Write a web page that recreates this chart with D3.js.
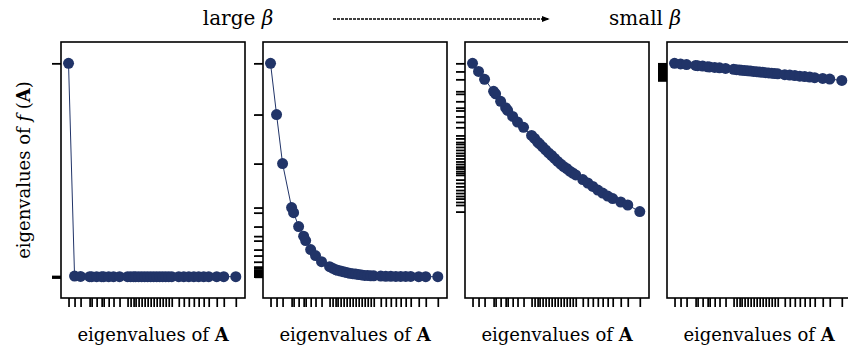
<!DOCTYPE html>
<html>
<head>
<meta charset="utf-8">
<script src="https://cdn.jsdelivr.net/npm/d3@7"></script>
<style>
  body { margin: 0; background: #fff; }
  svg { display: block; font-family: "DejaVu Serif", serif; }
</style>
</head>
<body>
<script>
// eigenvalues of A (shared by every panel)
const eigvals = [0.000, 0.036, 0.072, 0.126, 0.138, 0.168, 0.198, 0.210, 0.240, 0.269,
  0.305, 0.353, 0.371, 0.389, 0.401, 0.419, 0.437, 0.455, 0.473, 0.491,
  0.509, 0.527, 0.545, 0.563, 0.581, 0.599, 0.617, 0.659, 0.689, 0.719,
  0.749, 0.778, 0.808, 0.838, 0.886, 0.928, 1.000]

// eigenvalues of f(A), large beta -> small beta
const fLarge = [1.000, 0.003, 0.001, 0, 0, 0, 0, 0, 0, 0,
  0, 0, 0, 0, 0, 0, 0, 0, 0, 0,
  0, 0, 0, 0, 0, 0, 0, 0, 0, 0,
  0, 0, 0, 0, 0, 0, 0]
const fMidLarge = [1.000, 0.760, 0.530, 0.324, 0.300, 0.235, 0.190, 0.169, 0.127, 0.099,
  0.070, 0.047, 0.040, 0.033, 0.030, 0.026, 0.023, 0.019, 0.016, 0.014,
  0.012, 0.010, 0.008, 0.006, 0.006, 0.004, 0.004, 0.003, 0.002, 0.002,
  0.001, 0.001, 0.001, 0.001, 0.000, 0.000, 0.000]
const fMidSmall = [1.000, 0.962, 0.925, 0.869, 0.857, 0.822, 0.792, 0.779, 0.751, 0.725,
  0.700, 0.662, 0.648, 0.631, 0.622, 0.608, 0.594, 0.580, 0.568, 0.554,
  0.540, 0.528, 0.516, 0.507, 0.495, 0.486, 0.477, 0.455, 0.439, 0.423,
  0.406, 0.392, 0.378, 0.366, 0.350, 0.336, 0.305]
const fSmall = [1.000, 0.997, 0.994, 0.990, 0.989, 0.987, 0.984, 0.983, 0.981, 0.979,
  0.976, 0.972, 0.970, 0.969, 0.968, 0.966, 0.965, 0.964, 0.962, 0.961,
  0.959, 0.958, 0.956, 0.955, 0.954, 0.952, 0.951, 0.947, 0.945, 0.943,
  0.940, 0.938, 0.936, 0.933, 0.929, 0.926, 0.920]

const panels = [fLarge, fMidLarge, fMidSmall, fSmall]

const W = 848, H = 348
const left0 = 61, step = 202, pw = 184
const topY = 42, ph = 256
const color = '#213468'

const x = d3.scaleLinear().domain([-0.045, 1.055]).range([0, pw])
const y = d3.scaleLinear().domain([-0.1, 1.1]).range([ph, 0])

const svg = d3.select('body').append('svg')
  .attr('width', W).attr('height', H)

// header: large beta ---> small beta
const title1 = svg.append('text').attr('x', 238).attr('y', 25)
  .attr('text-anchor', 'middle').style('font-size', '20px')
title1.append('tspan').text('large ')
title1.append('tspan').style('font-style', 'italic').text('β')

const title2 = svg.append('text').attr('x', 645).attr('y', 25)
  .attr('text-anchor', 'middle').style('font-size', '20px')
title2.append('tspan').text('small ')
title2.append('tspan').style('font-style', 'italic').text('β')

svg.append('defs').append('marker')
  .attr('id', 'arr').attr('viewBox', '0 0 10 10')
  .attr('refX', 9).attr('refY', 5)
  .attr('markerWidth', 6).attr('markerHeight', 6)
  .attr('orient', 'auto')
  .append('path').attr('d', 'M0,1 L10,5 L0,9 Z').attr('fill', '#000')

svg.append('line')
  .attr('x1', 333).attr('x2', 549).attr('y1', 19).attr('y2', 19)
  .attr('stroke', '#000').attr('stroke-width', 1.3)
  .attr('stroke-dasharray', '3,1')
  .attr('marker-end', 'url(#arr)')

// y label
const yl = svg.append('text')
  .attr('transform', `translate(30, ${topY + ph / 2}) rotate(-90)`)
  .attr('text-anchor', 'middle').style('font-size', '18px')
yl.append('tspan').text('eigenvalues of ')
yl.append('tspan').style('font-style', 'italic').text('f ')
yl.append('tspan').text('(')
yl.append('tspan').style('font-weight', 'bold').text('A')
yl.append('tspan').text(')')

const line = d3.line().x(d => x(d[0])).y(d => y(d[1]))

panels.forEach((vals, i) => {
  const g = svg.append('g').attr('transform', `translate(${left0 + i * step}, ${topY})`)
  const pts = eigvals.map((e, k) => [e, vals[k]])

  // rugs, drawn with d3 axes
  const xr = g.append('g').attr('transform', `translate(0, ${ph})`)
    .call(d3.axisBottom(x).tickValues(eigvals).tickSize(9).tickFormat(''))
  xr.select('.domain').remove()
  xr.selectAll('line').attr('stroke', '#000').attr('stroke-width', 1.7)

  const yr = g.append('g')
    .call(d3.axisLeft(y).tickValues(vals).tickSize(9).tickFormat(''))
  yr.select('.domain').remove()
  yr.selectAll('line').attr('stroke', '#000').attr('stroke-width', 1.8)

  g.append('path').datum(pts)
    .attr('d', line)
    .attr('fill', 'none').attr('stroke', color).attr('stroke-width', 1)

  g.selectAll('circle').data(pts).enter().append('circle')
    .attr('cx', d => x(d[0])).attr('cy', d => y(d[1]))
    .attr('r', 5.5).attr('fill', color)

  g.append('rect').attr('x', 0).attr('y', 0).attr('width', pw).attr('height', ph)
    .attr('fill', 'none').attr('stroke', '#000').attr('stroke-width', 1.6)

  const xl = g.append('text').attr('x', pw / 2).attr('y', 341 - topY)
    .attr('text-anchor', 'middle').style('font-size', '18px')
  xl.append('tspan').text('eigenvalues of ')
  xl.append('tspan').style('font-weight', 'bold').text('A')
})
</script>
</body>
</html>
